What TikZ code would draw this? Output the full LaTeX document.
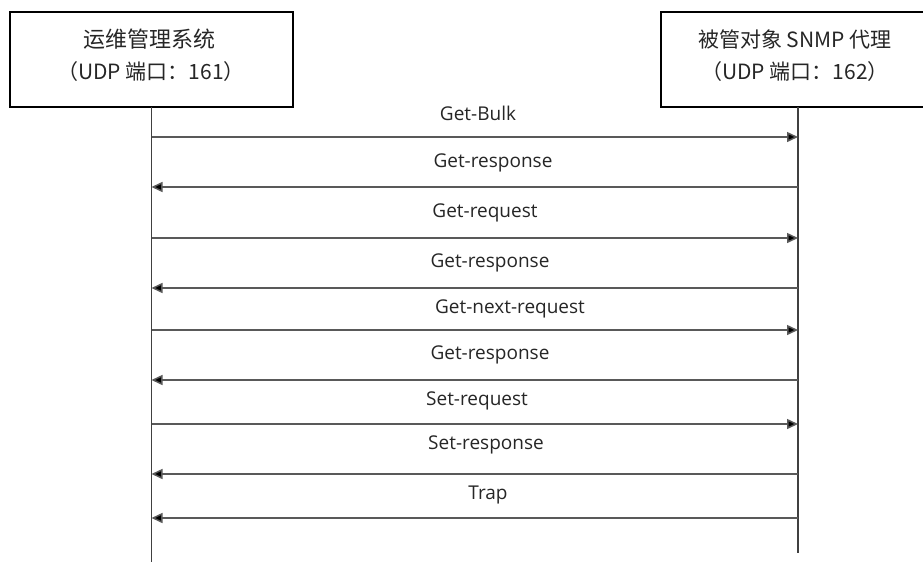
\documentclass[tikz,border=0pt]{standalone}
\usepackage{fontspec}
\setmainfont{Open Sans}
\newfontfamily\cjk{Noto Sans CJK SC}
\usetikzlibrary{arrows.meta}
\begin{document}
\begin{tikzpicture}[x=1pt,y=-1pt,
  actor/.style={draw=black,line width=1.3pt,fill=white},
  life/.style={draw=black!75,line width=1.5pt},
  msg/.style={draw=black!65,line width=1.5pt,-{Triangle[length=11pt,width=10pt,fill=black]}},
  lbl/.style={font=\fontsize{19}{21}\selectfont,inner sep=0pt,text=black!85},
  boxtxt/.style={font=\cjk\fontsize{21}{24}\selectfont,inner sep=0pt,text=black!85}]
\useasboundingbox (0,0) rectangle (923,562);
\fill[white] (0,0) rectangle (923,562);
% actor boxes
\draw[actor] (10,12) rectangle (293,107);
\draw[actor] (661,12) rectangle (930,107);
\node[boxtxt,font=\cjk\fontsize{22}{24}\selectfont] (a1) at (149,39) {运维管理系统};
\node[boxtxt] (a2) at (151,72) {（UDP 端口：161）};
\node[boxtxt] (b1) at (795,39) {被管对象 SNMP 代理};
\node[boxtxt] (b2) at (795,72) {（UDP 端口：162）};
% lifelines
\coordinate (lt) at (151.5,107);
\coordinate (lb) at (151.5,562);
\coordinate (rt) at (798,107);
\coordinate (rb) at (798,553);
\draw[life] (lt) -- (lb);
\draw[life] (rt) -- (rb);
% messages
\foreach \i/\y/\ly/\lx/\t/\d in {
  1/137/113/478/Get-Bulk/r,
  2/187/163/493/Get-response/l,
  3/238/213/485/Get-request/r,
  4/288/263/490/Get-response/l,
  5/330/309/510/Get-next-request/r,
  6/380/355/490/Get-response/l,
  7/424/401/477/Set-request/r,
  8/474/445/486/Set-response/l,
  9/518/495/488/Trap/l}{
  \coordinate (L\i) at (151.5,\y);
  \coordinate (R\i) at (798,\y);
  \node[lbl] (m\i) at (\lx,\ly) {\t};
  \if\d r
    \draw[msg] (L\i) -- (R\i);
  \else
    \draw[msg] (R\i) -- (L\i);
  \fi
}
\end{tikzpicture}
\end{document}
